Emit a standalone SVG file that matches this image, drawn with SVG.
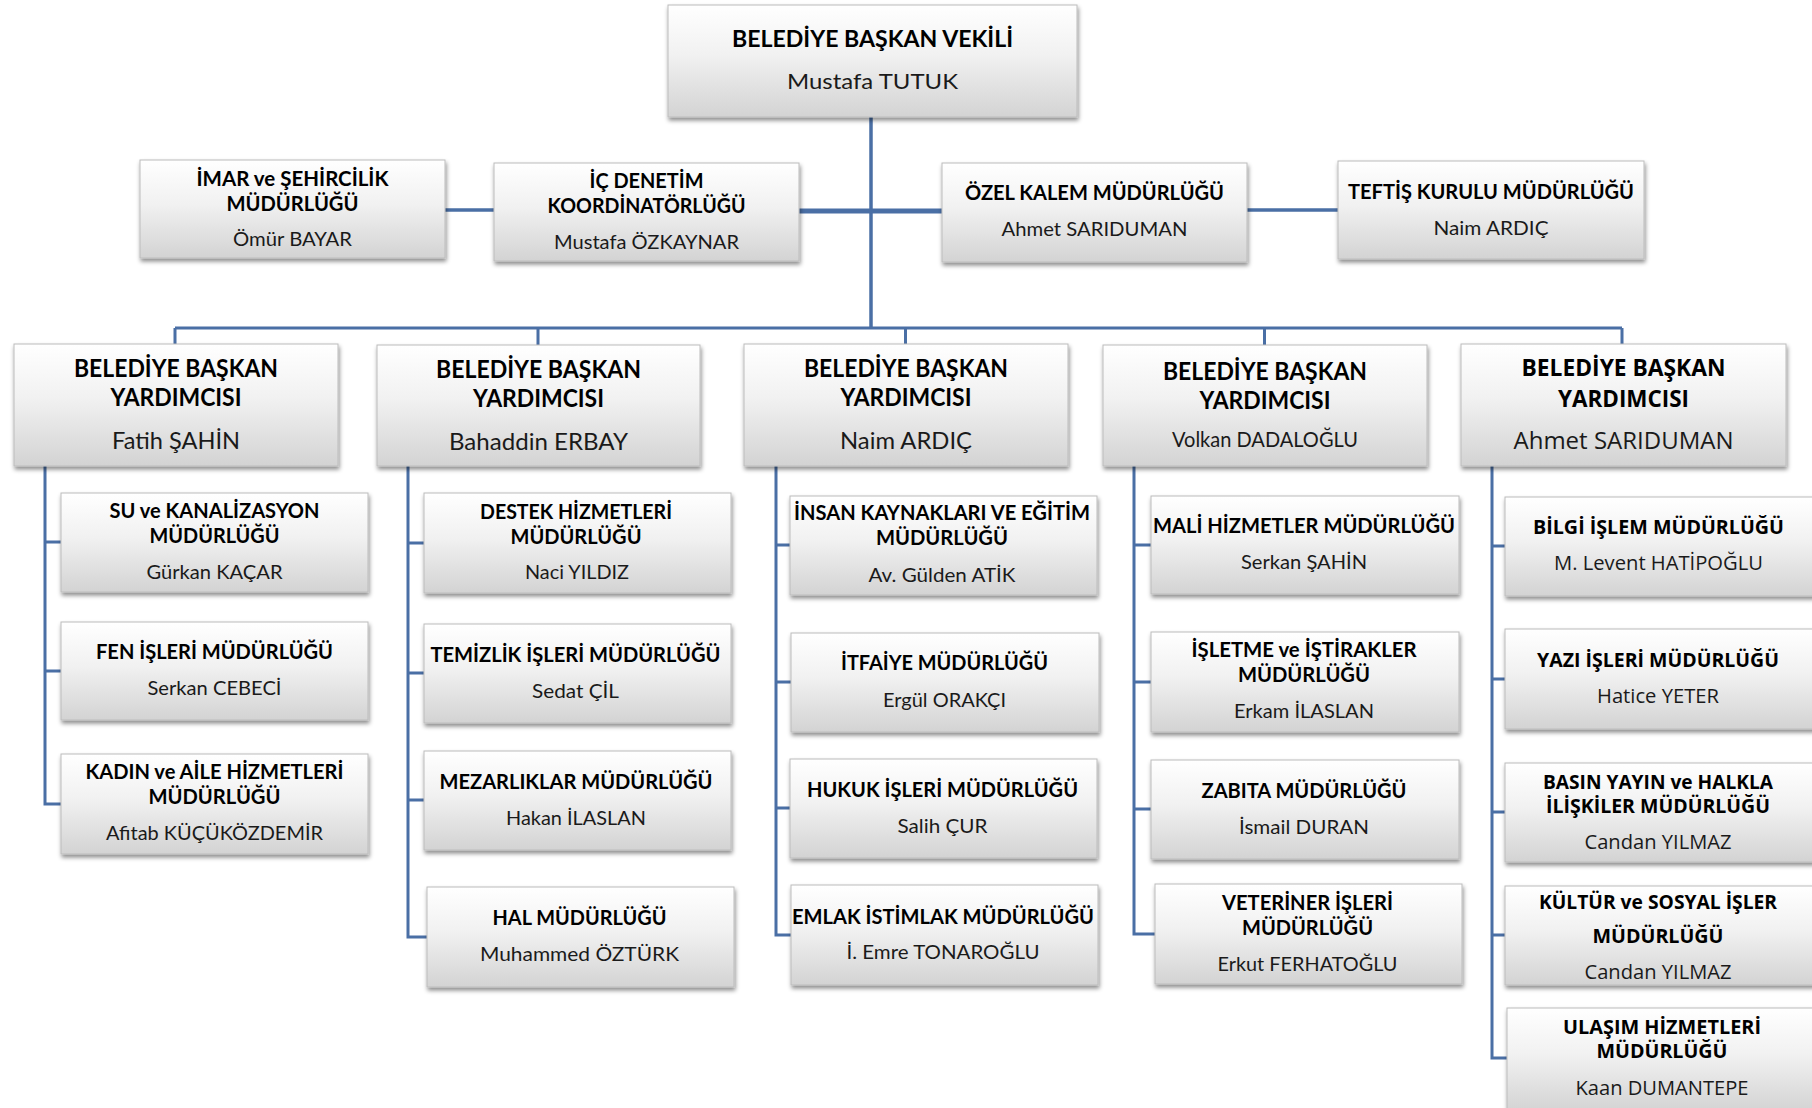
<svg xmlns="http://www.w3.org/2000/svg" width="1812" height="1108" viewBox="0 0 1812 1108">
<defs>
<linearGradient id="g" x1="0" y1="0" x2="0" y2="1">
<stop offset="0" stop-color="#ffffff"/>
<stop offset="0.45" stop-color="#f1f1f1"/>
<stop offset="1" stop-color="#d3d3d3"/>
</linearGradient>
<filter id="sh" x="-5%" y="-10%" width="110%" height="125%">
<feDropShadow dx="1" dy="3" stdDeviation="2" flood-color="#000" flood-opacity="0.45"/>
</filter>
</defs>
<style>
.box{fill:url(#g);stroke:#bcbcbc;stroke-width:1;filter:url(#sh)}
.c{fill:none;stroke:#4a6fa5;stroke-width:3}
.t{font-family:Lato,"Noto Sans",sans-serif;text-anchor:middle;fill:#000}
.o{font-family:"Open Sans","Noto Sans",sans-serif}
.b{font-weight:700}
.n{font-weight:400;fill:#1a1a1a}
.f20{font-size:20px}
.f21{font-size:21px}
.f22{font-size:22px}
.f23{font-size:23px}
.f24{font-size:24px}
</style>
<rect width="1812" height="1108" fill="#ffffff"/>
<g id="connectors">
<path class="c" d="M871 117V328" style="stroke-width:3.5"/>
<path class="c" d="M175 328H1622"/>
<path class="c" d="M175 328V344M538 328V345M905.5 328V344M1264.5 328V345M1622 328V344"/>
<path class="c" d="M445 210H494" style="stroke-width:3.5"/>
<path class="c" d="M799 211H942" style="stroke-width:5"/>
<path class="c" d="M1247 210H1338" style="stroke-width:3.5"/>
<path class="c" d="M45 466V804H61M45 542H61M45 671H61"/>
<path class="c" d="M408 466V937H427M408 543H424M408 673H424M408 800H424"/>
<path class="c" d="M776 466V935H791M776 545H790M776 682H791M776 808H790"/>
<path class="c" d="M1134 466V934H1155M1134 545H1151M1134 682H1151M1134 809H1151"/>
<path class="c" d="M1492 466V1058H1507M1492 546H1505M1492 679H1505M1492 812H1505M1492 935H1505"/>
</g>
<g id="baskan-vekili">
<rect class="box" x="668" y="5" width="409" height="112"/>
<text class="t b f22" x="872.5" y="47" textLength="281" lengthAdjust="spacingAndGlyphs">BELEDİYE BAŞKAN VEKİLİ</text>
<text class="t n f22" x="872.5" y="89" textLength="171" lengthAdjust="spacingAndGlyphs">Mustafa TUTUK</text>
</g>
<g id="imar">
<rect class="box" x="140" y="160" width="305" height="98"/>
<text class="t b f20" x="292.5" y="186" textLength="192" lengthAdjust="spacingAndGlyphs">İMAR ve ŞEHİRCİLİK</text>
<text class="t b f20" x="292.5" y="211" textLength="132" lengthAdjust="spacingAndGlyphs">MÜDÜRLÜĞÜ</text>
<text class="t n f20" x="292.5" y="246" textLength="119" lengthAdjust="spacingAndGlyphs">Ömür BAYAR</text>
</g>
<g id="ic-denetim">
<rect class="box" x="494" y="163" width="305" height="98"/>
<text class="t b f20" x="646.5" y="188" textLength="114" lengthAdjust="spacingAndGlyphs">İÇ DENETİM</text>
<text class="t b f20" x="646.5" y="213" textLength="198" lengthAdjust="spacingAndGlyphs">KOORDİNATÖRLÜĞÜ</text>
<text class="t n f20" x="646.5" y="249" textLength="185" lengthAdjust="spacingAndGlyphs">Mustafa ÖZKAYNAR</text>
</g>
<g id="ozel-kalem">
<rect class="box" x="942" y="163" width="305" height="99"/>
<text class="t b f20" x="1094.5" y="200" textLength="259" lengthAdjust="spacingAndGlyphs">ÖZEL KALEM MÜDÜRLÜĞÜ</text>
<text class="t n f20" x="1094.5" y="236" textLength="186" lengthAdjust="spacingAndGlyphs">Ahmet SARIDUMAN</text>
</g>
<g id="teftis">
<rect class="box" x="1338" y="161" width="306" height="98"/>
<text class="t b f20" x="1491" y="199" textLength="286" lengthAdjust="spacingAndGlyphs">TEFTİŞ KURULU MÜDÜRLÜĞÜ</text>
<text class="t n f20" x="1491" y="235" textLength="115" lengthAdjust="spacingAndGlyphs">Naim ARDIÇ</text>
</g>
<g id="vp1">
<rect class="box" x="14" y="344" width="324" height="122"/>
<text class="t b f24" x="176" y="377" textLength="204" lengthAdjust="spacingAndGlyphs">BELEDİYE BAŞKAN</text>
<text class="t b f24" x="176" y="406" textLength="131" lengthAdjust="spacingAndGlyphs">YARDIMCISI</text>
<text class="t n f24" x="176" y="449" textLength="128" lengthAdjust="spacingAndGlyphs">Fatih ŞAHİN</text>
</g>
<g id="vp2">
<rect class="box" x="377" y="345" width="323" height="121"/>
<text class="t b f24" x="538.5" y="378" textLength="205" lengthAdjust="spacingAndGlyphs">BELEDİYE BAŞKAN</text>
<text class="t b f24" x="538.5" y="407" textLength="131" lengthAdjust="spacingAndGlyphs">YARDIMCISI</text>
<text class="t n f24" x="538.5" y="450" textLength="179" lengthAdjust="spacingAndGlyphs">Bahaddin ERBAY</text>
</g>
<g id="vp3">
<rect class="box" x="744" y="344" width="324" height="122"/>
<text class="t b f24" x="906" y="377" textLength="204" lengthAdjust="spacingAndGlyphs">BELEDİYE BAŞKAN</text>
<text class="t b f24" x="906" y="406" textLength="131" lengthAdjust="spacingAndGlyphs">YARDIMCISI</text>
<text class="t n f24" x="906" y="449" textLength="132" lengthAdjust="spacingAndGlyphs">Naim ARDIÇ</text>
</g>
<g id="vp4">
<rect class="box" x="1103" y="345" width="324" height="121"/>
<text class="t b f24" x="1265" y="380" textLength="204" lengthAdjust="spacingAndGlyphs">BELEDİYE BAŞKAN</text>
<text class="t b f24" x="1265" y="409" textLength="131" lengthAdjust="spacingAndGlyphs">YARDIMCISI</text>
<text class="t n f21" x="1265" y="446.5" textLength="186" lengthAdjust="spacingAndGlyphs">Volkan DADALOĞLU</text>
</g>
<g id="vp5">
<rect class="box" x="1461" y="344" width="325" height="122"/>
<text class="t o b f23" x="1623.5" y="376" textLength="204" lengthAdjust="spacingAndGlyphs">BELEDİYE BAŞKAN</text>
<text class="t o b f23" x="1623.5" y="407" textLength="131" lengthAdjust="spacingAndGlyphs">YARDIMCISI</text>
<text class="t o n f24" x="1623.5" y="449" textLength="220" lengthAdjust="spacingAndGlyphs">Ahmet SARIDUMAN</text>
</g>
<g id="su-kanalizasyon">
<rect class="box" x="61" y="493" width="307" height="99"/>
<text class="t b f20" x="214.5" y="518" textLength="210" lengthAdjust="spacingAndGlyphs">SU ve KANALİZASYON</text>
<text class="t b f20" x="214.5" y="543" textLength="130" lengthAdjust="spacingAndGlyphs">MÜDÜRLÜĞÜ</text>
<text class="t n f20" x="214.5" y="579" textLength="136" lengthAdjust="spacingAndGlyphs">Gürkan KAÇAR</text>
</g>
<g id="fen-isleri">
<rect class="box" x="61" y="622" width="307" height="98"/>
<text class="t b f20" x="214.5" y="659" textLength="237" lengthAdjust="spacingAndGlyphs">FEN İŞLERİ MÜDÜRLÜĞÜ</text>
<text class="t n f20" x="214.5" y="695" textLength="134" lengthAdjust="spacingAndGlyphs">Serkan CEBECİ</text>
</g>
<g id="kadin-aile">
<rect class="box" x="61" y="754" width="307" height="100"/>
<text class="t b f20" x="214.5" y="779" textLength="258" lengthAdjust="spacingAndGlyphs">KADIN ve AİLE HİZMETLERİ</text>
<text class="t b f20" x="214.5" y="804" textLength="132" lengthAdjust="spacingAndGlyphs">MÜDÜRLÜĞÜ</text>
<text class="t n f20" x="214.5" y="840" textLength="217" lengthAdjust="spacingAndGlyphs">Afitab KÜÇÜKÖZDEMİR</text>
</g>
<g id="destek">
<rect class="box" x="424" y="493" width="307" height="100"/>
<text class="t b f20" x="576" y="519" textLength="192" lengthAdjust="spacingAndGlyphs">DESTEK HİZMETLERİ</text>
<text class="t b f20" x="576" y="544" textLength="131" lengthAdjust="spacingAndGlyphs">MÜDÜRLÜĞÜ</text>
<text class="t n f20" x="577" y="579" textLength="104" lengthAdjust="spacingAndGlyphs">Naci YILDIZ</text>
</g>
<g id="temizlik">
<rect class="box" x="424" y="624" width="307" height="99"/>
<text class="t b f20" x="575.5" y="662" textLength="290" lengthAdjust="spacingAndGlyphs">TEMİZLİK İŞLERİ MÜDÜRLÜĞÜ</text>
<text class="t n f20" x="575.5" y="698" textLength="87" lengthAdjust="spacingAndGlyphs">Sedat ÇİL</text>
</g>
<g id="mezarliklar">
<rect class="box" x="424" y="751" width="307" height="99"/>
<text class="t b f20" x="576" y="789" textLength="273" lengthAdjust="spacingAndGlyphs">MEZARLIKLAR MÜDÜRLÜĞÜ</text>
<text class="t n f20" x="576" y="825" textLength="140" lengthAdjust="spacingAndGlyphs">Hakan İLASLAN</text>
</g>
<g id="hal">
<rect class="box" x="427" y="887" width="307" height="100"/>
<text class="t b f20" x="579.5" y="925" textLength="174" lengthAdjust="spacingAndGlyphs">HAL MÜDÜRLÜĞÜ</text>
<text class="t n f20" x="579.5" y="961" textLength="199" lengthAdjust="spacingAndGlyphs">Muhammed ÖZTÜRK</text>
</g>
<g id="insan-kaynaklari">
<rect class="box" x="790" y="496" width="307" height="99"/>
<text class="t b f20" x="942" y="520" textLength="296" lengthAdjust="spacingAndGlyphs">İNSAN KAYNAKLARI VE EĞİTİM</text>
<text class="t b f20" x="942" y="545" textLength="132" lengthAdjust="spacingAndGlyphs">MÜDÜRLÜĞÜ</text>
<text class="t n f20" x="942" y="582" textLength="147" lengthAdjust="spacingAndGlyphs">Av. Gülden ATİK</text>
</g>
<g id="itfaiye">
<rect class="box" x="791" y="633" width="308" height="99"/>
<text class="t b f20" x="944.5" y="670" textLength="207" lengthAdjust="spacingAndGlyphs">İTFAİYE MÜDÜRLÜĞÜ</text>
<text class="t n f20" x="944.5" y="707" textLength="123" lengthAdjust="spacingAndGlyphs">Ergül ORAKÇI</text>
</g>
<g id="hukuk">
<rect class="box" x="790" y="759" width="307" height="99"/>
<text class="t b f20" x="942.5" y="797" textLength="271" lengthAdjust="spacingAndGlyphs">HUKUK İŞLERİ MÜDÜRLÜĞÜ</text>
<text class="t n f20" x="942.5" y="833" textLength="90" lengthAdjust="spacingAndGlyphs">Salih ÇUR</text>
</g>
<g id="emlak">
<rect class="box" x="791" y="885" width="307" height="100"/>
<text class="t b f20" x="943" y="924" textLength="302" lengthAdjust="spacingAndGlyphs">EMLAK İSTİMLAK MÜDÜRLÜĞÜ</text>
<text class="t n f20" x="943" y="959" textLength="193" lengthAdjust="spacingAndGlyphs">İ. Emre TONAROĞLU</text>
</g>
<g id="mali">
<rect class="box" x="1151" y="496" width="308" height="98"/>
<text class="t b f20" x="1304" y="533" textLength="302" lengthAdjust="spacingAndGlyphs">MALİ HİZMETLER MÜDÜRLÜĞÜ</text>
<text class="t n f20" x="1304" y="569" textLength="126" lengthAdjust="spacingAndGlyphs">Serkan ŞAHİN</text>
</g>
<g id="isletme">
<rect class="box" x="1151" y="632" width="308" height="100"/>
<text class="t b f20" x="1304" y="657" textLength="225" lengthAdjust="spacingAndGlyphs">İŞLETME ve İŞTİRAKLER</text>
<text class="t b f20" x="1304" y="682" textLength="132" lengthAdjust="spacingAndGlyphs">MÜDÜRLÜĞÜ</text>
<text class="t n f20" x="1304" y="718" textLength="140" lengthAdjust="spacingAndGlyphs">Erkam İLASLAN</text>
</g>
<g id="zabita">
<rect class="box" x="1151" y="760" width="308" height="99"/>
<text class="t b f20" x="1304" y="798" textLength="205" lengthAdjust="spacingAndGlyphs">ZABITA MÜDÜRLÜĞÜ</text>
<text class="t n f20" x="1304" y="834" textLength="130" lengthAdjust="spacingAndGlyphs">İsmail DURAN</text>
</g>
<g id="veteriner">
<rect class="box" x="1155" y="884" width="307" height="100"/>
<text class="t b f20" x="1307.5" y="910" textLength="171" lengthAdjust="spacingAndGlyphs">VETERİNER İŞLERİ</text>
<text class="t b f20" x="1307.5" y="935" textLength="131" lengthAdjust="spacingAndGlyphs">MÜDÜRLÜĞÜ</text>
<text class="t n f20" x="1307.5" y="971" textLength="180" lengthAdjust="spacingAndGlyphs">Erkut FERHATOĞLU</text>
</g>
<g id="bilgi-islem">
<rect class="box" x="1505" y="497" width="310" height="99"/>
<text class="t o b f20" x="1658.5" y="534" textLength="251" lengthAdjust="spacingAndGlyphs">BİLGİ İŞLEM MÜDÜRLÜĞÜ</text>
<text class="t o n f20" x="1658.5" y="570" textLength="209" lengthAdjust="spacingAndGlyphs">M. Levent HATİPOĞLU</text>
</g>
<g id="yazi-isleri">
<rect class="box" x="1505" y="629" width="310" height="100"/>
<text class="t o b f20" x="1658" y="667" textLength="242" lengthAdjust="spacingAndGlyphs">YAZI İŞLERİ MÜDÜRLÜĞÜ</text>
<text class="t o n f20" x="1658" y="703" textLength="122" lengthAdjust="spacingAndGlyphs">Hatice YETER</text>
</g>
<g id="basin-yayin">
<rect class="box" x="1505" y="763" width="310" height="99"/>
<text class="t o b f20" x="1658" y="789" textLength="230" lengthAdjust="spacingAndGlyphs">BASIN YAYIN ve HALKLA</text>
<text class="t o b f20" x="1658" y="813" textLength="224" lengthAdjust="spacingAndGlyphs">İLİŞKİLER MÜDÜRLÜĞÜ</text>
<text class="t o n f20" x="1658" y="849" textLength="147" lengthAdjust="spacingAndGlyphs">Candan YILMAZ</text>
</g>
<g id="kultur-sosyal">
<rect class="box" x="1505" y="886" width="310" height="99"/>
<text class="t o b f20" x="1658" y="909" textLength="238" lengthAdjust="spacingAndGlyphs">KÜLTÜR ve SOSYAL İŞLER</text>
<text class="t o b f20" x="1658" y="943" textLength="131" lengthAdjust="spacingAndGlyphs">MÜDÜRLÜĞÜ</text>
<text class="t o n f20" x="1658" y="979" textLength="147" lengthAdjust="spacingAndGlyphs">Candan YILMAZ</text>
</g>
<g id="ulasim">
<rect class="box" x="1507" y="1008" width="310" height="104"/>
<text class="t o b f20" x="1662" y="1034" textLength="198" lengthAdjust="spacingAndGlyphs">ULAŞIM HİZMETLERİ</text>
<text class="t o b f20" x="1662" y="1058" textLength="131" lengthAdjust="spacingAndGlyphs">MÜDÜRLÜĞÜ</text>
<text class="t o n f20" x="1662" y="1095" textLength="173" lengthAdjust="spacingAndGlyphs">Kaan DUMANTEPE</text>
</g>
</svg>
